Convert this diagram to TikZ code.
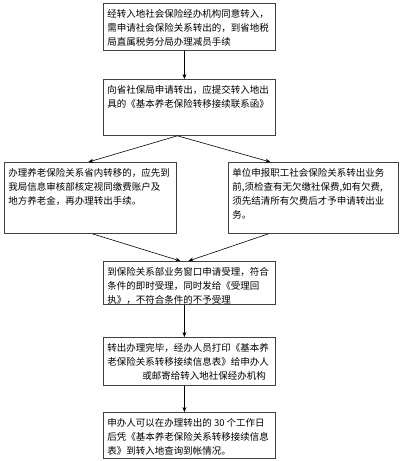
\documentclass[tikz,border=0pt]{standalone}
\usepackage{fontspec}
\setmainfont{Noto Sans CJK SC}
\usetikzlibrary{arrows.meta}
\XeTeXlinebreaklocale "zh"
\newcommand{\flowtext}[3]{\parbox[c][#2][t]{#1}{\fontsize{9.5pt}{14pt}\selectfont
  \leftskip=4pt\rightskip=0pt plus 1fil\parindent=0pt\vspace*{6pt}#3}}
\begin{document}
\begin{tikzpicture}[x=1pt,y=-1pt]
		\tikzstyle{stepbox}=[draw=black!75,line width=0.8pt,anchor=north west,inner sep=0pt]
		\tikzstyle{edge}=[draw,line width=0.6pt,-{Stealth[length=5pt,width=4pt]}]
		\useasboundingbox (0,0) rectangle (400,461);
		\begin{scope}
			\node [stepbox] (b1) at (103,3) {\flowtext{172pt}{47pt}{经转入地社会保险经办机构同意转入，\\需申请社会保险关系转出的，到省地税\\局直属税务分局办理减员手续}};
			\node [stepbox] (b2) at (103,79) {\flowtext{172pt}{56pt}{向省社保局申请转出，应提交转入地出\\具的《基本养老保险转移接续联系函》}};
			\node [stepbox] (b3) at (4,162) {\flowtext{172pt}{71pt}{办理养老保险关系省内转移的，应先到\\我局信息审核部核定视同缴费账户及\\地方养老金，再办理转出手续。}};
			\node [stepbox] (b4) at (228,162) {\flowtext{170pt}{71pt}{单位申报职工社会保险关系转出业务\\前,须检查有无欠缴社保费,如有欠费,\\须先结清所有欠费后才予申请转出业\\务。}};
			\node [stepbox] (b5) at (103,261) {\flowtext{172pt}{43pt}{到保险关系部业务窗口申请受理，符合\\条件的即时受理，同时发给《受理回\\执》，不符合条件的不予受理}};
			\node [stepbox] (b6) at (103,337) {\flowtext{172pt}{48pt}{转出办理完毕，经办人员打印《基本养\\老保险关系转移接续信息表》给申办人\\\hspace*{35pt}或邮寄给转入地社保经办机构}};
			\node [stepbox] (b7) at (103,412) {\flowtext{172pt}{46pt}{申办人可以在办理转出的 30 个工作日\\后凭《基本养老保险关系转移接续信息\\表》到转入地查询到帐情况。}};
			\path[edge] ([xshift=-5pt]b1.south) -- ([xshift=-5pt]b2.north);
			\path[edge] ([xshift=-12pt]b2.south) -- ([xshift=-2pt]b3.north);
			\path[edge] ([xshift=-12pt]b2.south) -- ([xshift=-43pt]b4.north);
			\path[edge] ([xshift=2pt]b3.south) -- ([xshift=-9pt]b5.north);
			\path[edge] ([xshift=-45pt]b4.south) -- ([xshift=-1pt]b5.north);
			\path[edge] ([xshift=-5pt]b5.south) -- ([xshift=-5pt]b6.north);
			\path[edge] ([xshift=-5pt]b6.south) -- ([xshift=-5pt]b7.north);
		\end{scope}
\end{tikzpicture}
\end{document}
